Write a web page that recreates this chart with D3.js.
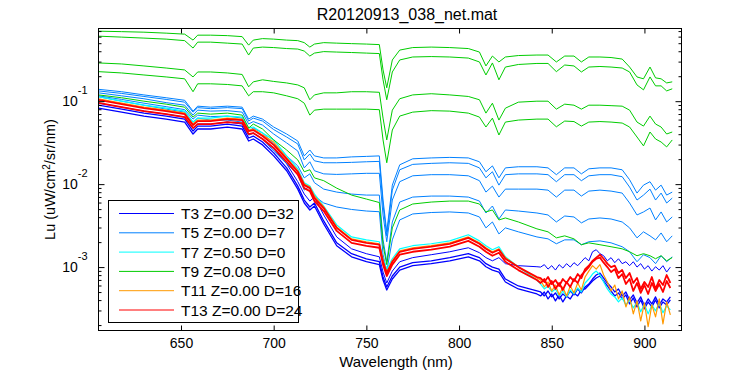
<!DOCTYPE html>
<html>
<head>
<meta charset="utf-8">
<script src="https://cdn.jsdelivr.net/npm/d3@7"></script>
<style>
  body { margin: 0; background: #fff; }
  svg text { font-family: "Liberation Sans", Arial, Helvetica, sans-serif; fill: #000; }
</style>
</head>
<body>
<svg id="chart" width="750" height="375"></svg>
<script>
// wavelength grids (nm)
const wl = [605.5, 618, 630, 642, 652, 656.5, 659, 666, 675, 683, 686.5, 689, 694, 700, 707, 713, 716.5, 719.5, 722, 727,
  734, 742, 750, 757, 759, 761, 764, 768, 775, 785, 795, 805, 811, 814.5, 818, 821.5, 825, 832, 842, 848,
  852.5, 857, 862, 866, 870, 876, 882, 888, 892, 896, 899.5, 903, 906, 909, 912, 915];
const wlTail = [844, 846, 848, 850, 852, 854, 856, 858, 860, 862, 864, 866, 868, 870, 872, 874, 876, 878, 880, 882,
  884, 886, 888, 890, 892, 894, 896, 898, 900, 902, 904, 906, 908, 910, 912, 914];
const wlFine = wl.slice(0, 39).concat(wlTail);

// T9 (green) spectra on wl
const t9a = [0.698, 0.689, 0.679, 0.661, 0.643, 0.545, 0.625, 0.625, 0.617, 0.600, 0.474, 0.545, 0.568, 0.560, 0.545, 0.537, 0.508, 0.449, 0.488, 0.508,
  0.501, 0.494, 0.488, 0.481, 0.238, 0.145, 0.314, 0.413, 0.443, 0.449, 0.443, 0.431, 0.391, 0.266, 0.350, 0.297, 0.341, 0.355, 0.360, 0.360,
  0.297, 0.350, 0.350, 0.297, 0.341, 0.341, 0.336, 0.322, 0.258, 0.196, 0.186, 0.258, 0.191, 0.186, 0.166, 0.171];
const t9b = [0.608, 0.592, 0.576, 0.560, 0.537, 0.437, 0.515, 0.515, 0.501, 0.488, 0.360, 0.437, 0.449, 0.443, 0.431, 0.425, 0.402, 0.350, 0.380, 0.396,
  0.391, 0.386, 0.380, 0.375, 0.181, 0.104, 0.225, 0.314, 0.341, 0.345, 0.341, 0.331, 0.297, 0.207, 0.289, 0.181, 0.258, 0.277, 0.285, 0.285,
  0.227, 0.273, 0.266, 0.225, 0.258, 0.262, 0.258, 0.251, 0.225, 0.157, 0.137, 0.196, 0.153, 0.153, 0.133, 0.141];
const t9c = [0.289, 0.281, 0.266, 0.251, 0.238, 0.196, 0.225, 0.225, 0.219, 0.210, 0.149, 0.171, 0.181, 0.173, 0.166, 0.157, 0.145, 0.104, 0.119, 0.126,
  0.126, 0.130, 0.130, 0.128, 0.0625, 0.0341, 0.0780, 0.107, 0.119, 0.123, 0.119, 0.114, 0.104, 0.0718, 0.0946, 0.0592, 0.0824, 0.0973, 0.100, 0.100,
  0.0802, 0.0921, 0.0895, 0.0802, 0.0895, 0.0895, 0.0883, 0.0871, 0.0780, 0.0560, 0.0501, 0.0661, 0.0530, 0.0488, 0.0402, 0.0425];
const t9d = [0.227, 0.219, 0.207, 0.196, 0.186, 0.130, 0.162, 0.162, 0.159, 0.153, 0.116, 0.130, 0.130, 0.126, 0.116, 0.107, 0.0946, 0.0679, 0.0780, 0.0802,
  0.0802, 0.0802, 0.0802, 0.0790, 0.0341, 0.0181, 0.0449, 0.0661, 0.0738, 0.0769, 0.0759, 0.0718, 0.0643, 0.0488, 0.0625, 0.0391, 0.0560, 0.0592, 0.0608, 0.0608,
  0.0491, 0.0576, 0.0568, 0.0501, 0.0560, 0.0568, 0.0560, 0.0545, 0.0488, 0.0370, 0.0289, 0.0425, 0.0350, 0.0322, 0.0281, 0.0341];
const t9e = [0.119, 0.110, 0.100, 0.0921, 0.0847, 0.0643, 0.0718, 0.0698, 0.0718, 0.0679, 0.0474, 0.0530, 0.0462, 0.0341, 0.0258, 0.0196, 0.0141, 0.0149, 0.0119, 0.0110,
  0.00895, 0.00738, 0.00661, 0.00600, 0.00186, 0.00107, 0.00297, 0.00488, 0.00576, 0.00608, 0.00625, 0.00625, 0.00576, 0.00462, 0.00488, 0.00370, 0.00391, 0.00350, 0.00289, 0.00266,
  0.00225, 0.00238, 0.00219, 0.00186, 0.00196, 0.00186, 0.00176, 0.00166, 0.00153, 0.00137, 0.00145, 0.00137, 0.00126, 0.00137, 0.00119, 0.00130];

// T5 (light blue) spectra on wl
const t5a = [0.139, 0.130, 0.119, 0.110, 0.1025, 0.0759, 0.0871, 0.0847, 0.0871, 0.0847, 0.0608, 0.0661, 0.0608, 0.0488, 0.0402, 0.0331, 0.0219, 0.0258, 0.0219, 0.0207,
  0.0207, 0.0213, 0.0216, 0.0219, 0.00643, 0.00266, 0.00973, 0.0171, 0.0202, 0.0207, 0.0210, 0.0207, 0.0186, 0.0141, 0.0166, 0.0119, 0.0157, 0.0162, 0.0162, 0.0157,
  0.0130, 0.0157, 0.0157, 0.0133, 0.0153, 0.0157, 0.0157, 0.0149, 0.0113, 0.00780, 0.00973, 0.0107, 0.00847, 0.00973, 0.00738, 0.00802];
const t5b = [0.133, 0.124, 0.114, 0.105, 0.0973, 0.0738, 0.0836, 0.0813, 0.0836, 0.0813, 0.0576, 0.0625, 0.0576, 0.0455, 0.0370, 0.0305, 0.0196, 0.0231, 0.0191, 0.0181,
  0.0181, 0.0183, 0.0186, 0.0188, 0.00560, 0.00238, 0.00847, 0.0149, 0.0173, 0.0178, 0.0181, 0.0178, 0.0157, 0.0119, 0.0141, 0.00973, 0.0130, 0.0133, 0.0133, 0.0130,
  0.0107, 0.0130, 0.0130, 0.0110, 0.0126, 0.0130, 0.0130, 0.0123, 0.00921, 0.00643, 0.00738, 0.00871, 0.00643, 0.00780, 0.00592, 0.00679];
const t5c = [0.126, 0.116, 0.107, 0.0960, 0.0895, 0.0679, 0.0780, 0.0759, 0.0769, 0.0738, 0.0530, 0.0568, 0.0515, 0.0402, 0.0314, 0.0251, 0.0157, 0.0186, 0.0145, 0.0133,
  0.0131, 0.0133, 0.0135, 0.0135, 0.00425, 0.00202, 0.00643, 0.0107, 0.0126, 0.0130, 0.0130, 0.0126, 0.0110, 0.00802, 0.00946, 0.00698, 0.00871, 0.00871, 0.00871, 0.00847,
  0.00698, 0.00847, 0.00847, 0.00718, 0.00824, 0.00847, 0.00824, 0.00780, 0.00592, 0.00425, 0.00462, 0.00515, 0.00370, 0.00462, 0.00350, 0.00402];
const t5d = [0.116, 0.105, 0.0946, 0.0859, 0.0791, 0.0608, 0.0679, 0.0652, 0.0661, 0.0625, 0.0437, 0.0474, 0.0413, 0.0305, 0.0219, 0.0166, 0.0119, 0.0133, 0.0104, 0.00871,
  0.00802, 0.00759, 0.00738, 0.00738, 0.00213, 0.00116, 0.00350, 0.00608, 0.00698, 0.00718, 0.00718, 0.00698, 0.00625, 0.00449, 0.00545, 0.00380, 0.00488, 0.00474, 0.00449, 0.00425,
  0.00350, 0.00413, 0.00402, 0.00341, 0.00380, 0.00391, 0.00380, 0.00350, 0.00297, 0.00225, 0.00266, 0.00238, 0.00213, 0.00258, 0.00202, 0.00238];
const t5e = [0.113, 0.100, 0.0895, 0.0802, 0.0738, 0.0560, 0.0625, 0.0592, 0.0592, 0.0560, 0.0391, 0.0413, 0.0350, 0.0251, 0.0176, 0.0130, 0.00847, 0.00946, 0.00718, 0.00592,
  0.00530, 0.00495, 0.00474, 0.00465, 0.00141, 0.000895, 0.00213, 0.00370, 0.00437, 0.00455, 0.00462, 0.00449, 0.00402, 0.00297, 0.00350, 0.00251, 0.00297, 0.00266, 0.00231, 0.00219,
  0.00191, 0.00213, 0.00213, 0.00186, 0.00202, 0.00207, 0.00196, 0.00176, 0.00153, 0.00116, 0.00141, 0.00130, 0.00110, 0.00137, 0.00116, 0.00133];

// T3 (dark blue) spectra on wlFine
const t3a = [0.0946, 0.0847, 0.0759, 0.0698, 0.0643, 0.0474, 0.0530, 0.0530, 0.0560, 0.0530, 0.0391, 0.0413, 0.0350, 0.0266, 0.0176, 0.0107, 0.00759, 0.00625, 0.00698, 0.00425,
  0.00231, 0.00166, 0.00145, 0.00133, 0.000871, 0.000643, 0.000895, 0.00116, 0.00130, 0.00141, 0.00153, 0.00171, 0.00149, 0.00130, 0.00119, 0.00130, 0.00110, 0.00104, 0.00101,
  0.00100, 0.00107, 0.000946, 0.00104, 0.000921, 0.00107, 0.000973, 0.00110, 0.00100, 0.00113, 0.00104, 0.00116, 0.00130, 0.00119, 0.00153, 0.00162, 0.00145, 0.00137,
  0.00119, 0.00130, 0.00113, 0.00126, 0.00110, 0.00116, 0.00104, 0.00116, 0.00100, 0.00110, 0.000946, 0.00104, 0.000895, 0.00101, 0.000921, 0.00104, 0.000871, 0.00100];
const t3b = [0.0895, 0.0802, 0.0718, 0.0661, 0.0608, 0.0437, 0.0501, 0.0501, 0.0530, 0.0501, 0.0360, 0.0380, 0.0322, 0.0238, 0.0157, 0.00946, 0.00643, 0.00530, 0.00592, 0.00360,
  0.00196, 0.00145, 0.00126, 0.00116, 0.000759, 0.000576, 0.000780, 0.00100, 0.00113, 0.00119, 0.00130, 0.00145, 0.00130, 0.00110, 0.00100, 0.000946, 0.000718, 0.000592, 0.000515,
  0.000501, 0.000449, 0.000515, 0.000437, 0.000488, 0.000413, 0.000474, 0.000437, 0.000515, 0.000462, 0.000545, 0.000488, 0.000576, 0.000625, 0.000718, 0.000802, 0.000847, 0.000738,
  0.000643, 0.000576, 0.000501, 0.000545, 0.000449, 0.000501, 0.000402, 0.000462, 0.000370, 0.000437, 0.000341, 0.000413, 0.000360, 0.000437, 0.000350, 0.000413, 0.000380, 0.000437];
const t3c = [0.0824, 0.0738, 0.0661, 0.0608, 0.0560, 0.0402, 0.0462, 0.0462, 0.0488, 0.0462, 0.0331, 0.0350, 0.0297, 0.0219, 0.0145, 0.00871, 0.00592, 0.00488, 0.00545, 0.00331,
  0.00181, 0.00133, 0.00116, 0.00107, 0.000698, 0.000530, 0.000718, 0.000921, 0.00104, 0.00110, 0.00119, 0.00133, 0.00119, 0.00101, 0.000921, 0.000871, 0.000661, 0.000545, 0.000474,
  0.000449, 0.000501, 0.000413, 0.000474, 0.000391, 0.000462, 0.000380, 0.000449, 0.000413, 0.000488, 0.000449, 0.000530, 0.000545, 0.000608, 0.000679, 0.000738, 0.000780, 0.000679,
  0.000592, 0.000515, 0.000449, 0.000488, 0.000413, 0.000462, 0.000360, 0.000425, 0.000331, 0.000402, 0.000314, 0.000380, 0.000331, 0.000402, 0.000322, 0.000380, 0.000350, 0.000402];

// T7 (cyan), T11 (orange), T13 (red) spectra on wlFine
const t7a = [0.113, 0.100, 0.0895, 0.0824, 0.0759, 0.0560, 0.0625, 0.0625, 0.0661, 0.0643, 0.0474, 0.0488, 0.0413, 0.0341, 0.0219, 0.0153, 0.0104, 0.00946, 0.00759, 0.00545,
  0.00322, 0.00231, 0.00213, 0.00202, 0.00126, 0.000946, 0.00126, 0.00166, 0.00181, 0.00191, 0.00207, 0.00245, 0.00207, 0.00181, 0.00162, 0.00176, 0.00133, 0.00100, 0.000698,
  0.000625, 0.000545, 0.000592, 0.000501, 0.000545, 0.000449, 0.000515, 0.000437, 0.000530, 0.000474, 0.000560, 0.000501, 0.000643, 0.000718, 0.000824, 0.000895, 0.000802, 0.000661,
  0.000545, 0.000474, 0.000437, 0.000380, 0.000425, 0.000350, 0.000402, 0.000322, 0.000380, 0.000289, 0.000360, 0.000273, 0.000350, 0.000297, 0.000370, 0.000281, 0.000341, 0.000305];
const t11a = [0.107, 0.0946, 0.0847, 0.0780, 0.0718, 0.0530, 0.0592, 0.0592, 0.0625, 0.0608, 0.0449, 0.0462, 0.0391, 0.0322, 0.0207, 0.0145, 0.0100, 0.00921, 0.00718, 0.00530,
  0.00305, 0.00219, 0.00202, 0.00191, 0.00119, 0.000871, 0.00119, 0.00157, 0.00171, 0.00181, 0.00196, 0.00231, 0.00196, 0.00171, 0.00153, 0.00166, 0.00130, 0.00100, 0.000738,
  0.000698, 0.000576, 0.000661, 0.000515, 0.000608, 0.000462, 0.000576, 0.000449, 0.000592, 0.000488, 0.000643, 0.000530, 0.000759, 0.000895, 0.00104, 0.000946, 0.00107, 0.000802,
  0.000661, 0.000515, 0.000608, 0.000413, 0.000515, 0.000331, 0.000437, 0.000273, 0.000391, 0.000225, 0.000370, 0.000191, 0.000350, 0.000251, 0.000413, 0.000207, 0.000380, 0.000266];
const t13a = [0.104, 0.0921, 0.0824, 0.0759, 0.0698, 0.0515, 0.0576, 0.0576, 0.0608, 0.0592, 0.0437, 0.0449, 0.0380, 0.0297, 0.0202, 0.0141, 0.00973, 0.00895, 0.00679, 0.00515,
  0.00297, 0.00213, 0.00196, 0.00186, 0.00116, 0.000847, 0.00116, 0.00153, 0.00166, 0.00176, 0.00191, 0.00225, 0.00191, 0.00166, 0.00149, 0.00162, 0.00126, 0.00100, 0.000759,
  0.000738, 0.000661, 0.000759, 0.000625, 0.000698, 0.000592, 0.000718, 0.000643, 0.000759, 0.000679, 0.000824, 0.000738, 0.000946, 0.00104, 0.00119, 0.00130, 0.00141, 0.00126,
  0.00110, 0.00100, 0.00104, 0.000847, 0.000921, 0.000738, 0.000847, 0.000643, 0.000738, 0.000545, 0.000661, 0.000576, 0.000759, 0.000545, 0.000698, 0.000608, 0.000802, 0.000643];
const t13b = [0.0957, 0.0847, 0.0758, 0.0698, 0.0642, 0.0474, 0.0530, 0.0530, 0.0559, 0.0545, 0.0402, 0.0413, 0.0350, 0.0273, 0.0186, 0.0130, 0.00895, 0.00823, 0.00625, 0.00474,
  0.00273, 0.00196, 0.00180, 0.00171, 0.00107, 0.000779, 0.00107, 0.00141, 0.00153, 0.00162, 0.00176, 0.00207, 0.00176, 0.00153, 0.00137, 0.00149, 0.00116, 0.00092, 0.000698,
  0.000643, 0.000718, 0.000576, 0.000679, 0.000545, 0.000643, 0.000530, 0.000661, 0.000576, 0.000718, 0.000643, 0.000802, 0.000895, 0.00100, 0.00116, 0.00126, 0.00130, 0.00113,
  0.00100, 0.000871, 0.000946, 0.000738, 0.000824, 0.000625, 0.000718, 0.000515, 0.000643, 0.000488, 0.000608, 0.000474, 0.000643, 0.000515, 0.000625, 0.000501, 0.000679, 0.000560];

// legend
const legendLabels = ["T3 Z=0.00 D=32", "T5 Z=0.00 D=7", "T7 Z=0.50 D=0", "T9 Z=0.08 D=0", "T11 Z=0.00 D=16", "T13 Z=0.00 D=24"];
const colors = ["#0000ff", "#0080ff", "#00ffff", "#00cc00", "#ff9900", "#ff0000"];

// ticks
const xTicks = [650, 700, 750, 800, 850, 900];
const yMajor = [1e-1, 1e-2, 1e-3];
const yMajorExp = ["-1", "-2", "-3"];

const width = 750, height = 375;
const plot = {left: 98.5, right: 681.5, top: 28.5, bottom: 330.5};

const x = d3.scaleLinear().domain([605.5, 920]).range([plot.left, plot.right]);
const y = d3.scaleLog().domain([1.72e-4, 0.752]).range([plot.bottom, plot.top]);

const yMinor = [];
[1e-4, 1e-3, 1e-2, 1e-1].forEach(dec => {
  for (let k = 2; k <= 9; k++) {
    const v = dec * k;
    if (v > y.domain()[0] && v < y.domain()[1]) yMinor.push(v);
  }
});

const svg = d3.select("#chart");

// series, drawn in legend order
const series = [
  {g: wlFine, v: t3a, c: 0, w: 1},
  {g: wlFine, v: t3b, c: 0, w: 1.3},
  {g: wlFine, v: t3c, c: 0, w: 1.3},
  {g: wl, v: t5a, c: 1, w: 1},
  {g: wl, v: t5b, c: 1, w: 1},
  {g: wl, v: t5c, c: 1, w: 1},
  {g: wl, v: t5d, c: 1, w: 1},
  {g: wl, v: t5e, c: 1, w: 1},
  {g: wlFine, v: t7a, c: 2, w: 1.2},
  {g: wl, v: t9a, c: 3, w: 1},
  {g: wl, v: t9b, c: 3, w: 1},
  {g: wl, v: t9c, c: 3, w: 1},
  {g: wl, v: t9d, c: 3, w: 1},
  {g: wl, v: t9e, c: 3, w: 1},
  {g: wlFine, v: t11a, c: 4, w: 1.2},
  {g: wlFine, v: t13a, c: 5, w: 1.8},
  {g: wlFine, v: t13b, c: 5, w: 1.8}
];

svg.append("defs").append("clipPath").attr("id", "clip")
  .append("rect")
  .attr("x", plot.left).attr("y", plot.top)
  .attr("width", plot.right - plot.left).attr("height", plot.bottom - plot.top);

const line = d3.line()
  .x(d => x(d[0]))
  .y(d => y(d[1]));

svg.append("g")
  .attr("clip-path", "url(#clip)")
  .selectAll("path")
  .data(series)
  .enter().append("path")
  .attr("fill", "none")
  .attr("stroke", d => colors[d.c])
  .attr("stroke-width", d => d.w)
  .attr("stroke-linejoin", "round")
  .attr("d", d => line(d.g.map((w, i) => [w, d.v[i]])));

// axes: ticks point inward on all four sides
function styleAxis(g) {
  g.select(".domain").remove();
  g.attr("font-family", null).attr("font-size", null);
  g.selectAll(".tick line").attr("stroke", "#000");
}

svg.append("g")
  .attr("transform", `translate(0,${plot.bottom})`)
  .call(d3.axisBottom(x).tickValues(xTicks).tickSize(-5).tickPadding(8).tickFormat(d3.format("d")))
  .call(styleAxis)
  .selectAll("text").attr("font-size", 14);

svg.append("g")
  .attr("transform", `translate(0,${plot.top})`)
  .call(d3.axisTop(x).tickValues(xTicks).tickSize(-5).tickFormat(""))
  .call(styleAxis);

[["left", plot.left, d3.axisLeft], ["right", plot.right, d3.axisRight]].forEach(([side, px, ax]) => {
  svg.append("g")
    .attr("transform", `translate(${px},0)`)
    .call(ax(y).tickValues(yMajor).tickSize(-6).tickFormat(""))
    .call(styleAxis);
  svg.append("g")
    .attr("transform", `translate(${px},0)`)
    .call(ax(y).tickValues(yMinor).tickSize(-3).tickFormat(""))
    .call(styleAxis);
});

// y tick labels as 10^n
const yl = svg.append("g");
yMajor.forEach((v, i) => {
  const t = yl.append("text")
    .attr("x", plot.left - 11)
    .attr("y", y(v) + 5)
    .attr("text-anchor", "end")
    .attr("font-size", 14);
  t.append("tspan").text("10");
  t.append("tspan").attr("dy", -12).attr("font-size", 11).text(yMajorExp[i]);
});

// frame
svg.append("rect")
  .attr("x", plot.left).attr("y", plot.top)
  .attr("width", plot.right - plot.left).attr("height", plot.bottom - plot.top)
  .attr("fill", "none").attr("stroke", "#000");

// title and labels
svg.append("text")
  .attr("x", 407).attr("y", 20)
  .attr("text-anchor", "middle").attr("font-size", 16)
  .text("R20120913_038_net.mat");

svg.append("text")
  .attr("x", 396).attr("y", 367)
  .attr("text-anchor", "middle").attr("font-size", 15)
  .text("Wavelength (nm)");

const ylab = svg.append("text")
  .attr("transform", `translate(55,${(plot.top + plot.bottom) / 2}) rotate(-90)`)
  .attr("text-anchor", "middle").attr("font-size", 14.5);
ylab.append("tspan").text("Lu (uW/cm");
ylab.append("tspan").attr("dy", -5).attr("font-size", 10).text("2");
ylab.append("tspan").attr("dy", 5).text("/sr/nm)");

// legend
const lg = svg.append("g");
lg.append("rect")
  .attr("x", 108.5).attr("y", 200.5).attr("width", 190).attr("height", 122)
  .attr("fill", "#fff").attr("stroke", "#000");
legendLabels.forEach((lab, i) => {
  const ly = 213.5 + i * 19.3;
  lg.append("line")
    .attr("x1", 119).attr("x2", 174).attr("y1", ly).attr("y2", ly)
    .attr("stroke", colors[i]).attr("stroke-width", 1);
  lg.append("text")
    .attr("x", 181).attr("y", ly + 5.5)
    .attr("font-size", 15.5)
    .text(lab);
});
</script>
</body>
</html>
